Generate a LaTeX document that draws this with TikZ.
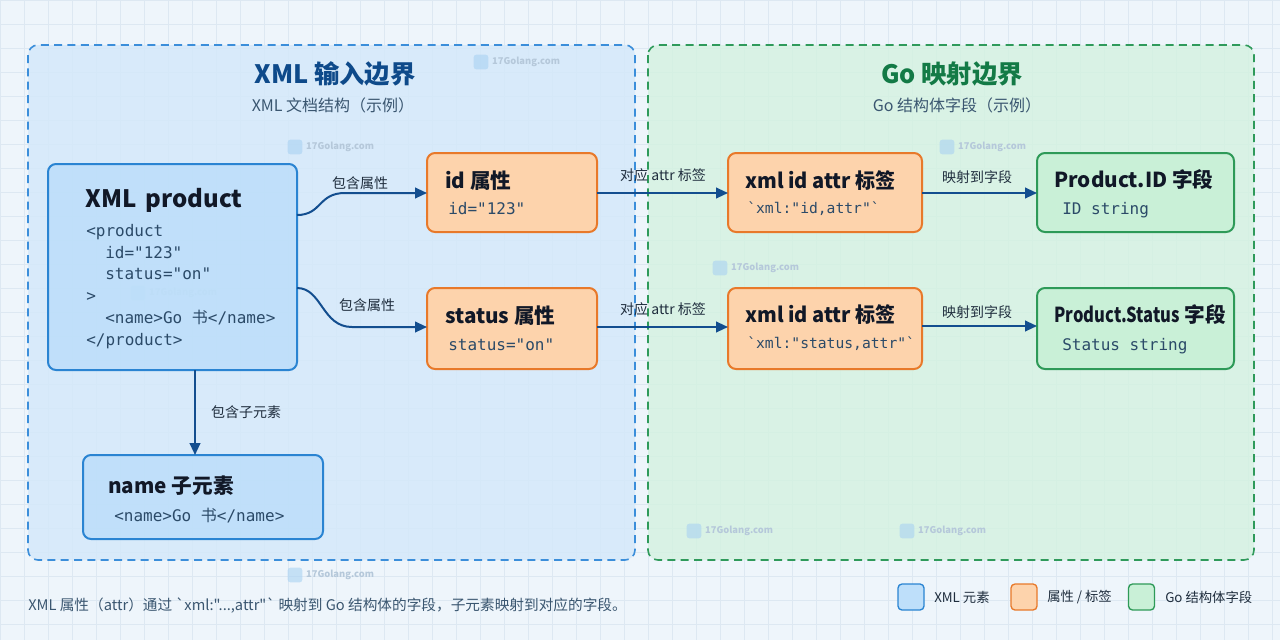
\documentclass[tikz,border=0pt]{standalone}
\usepackage{fontspec}
\setmainfont{Noto Sans CJK SC}
\setmonofont{DejaVu Sans Mono}
\newfontfamily\cjk{Noto Sans CJK SC}
\usetikzlibrary{arrows.meta}
\definecolor{bg}{HTML}{EEF5FB}
\definecolor{gridc}{HTML}{DDE8F2}
\definecolor{lfill}{HTML}{D3E8FA}
\definecolor{lstroke}{HTML}{3B8EDA}
\definecolor{rfill}{HTML}{D4F2E0}
\definecolor{rstroke}{HTML}{2F9A5B}
\definecolor{bfill}{HTML}{BEDFFA}
\definecolor{bstroke}{HTML}{2A84D2}
\definecolor{ofill}{HTML}{FDD3AC}
\definecolor{ostroke}{HTML}{E8792A}
\definecolor{gfill}{HTML}{C9F0D7}
\definecolor{gstroke}{HTML}{2E9A58}
\definecolor{edgec}{HTML}{134E8F}
\definecolor{ltitle}{HTML}{0E4A8A}
\definecolor{rtitle}{HTML}{137A46}
\definecolor{subc}{HTML}{3A5670}
\definecolor{codec}{HTML}{2B4A68}
\definecolor{inkc}{HTML}{111827}
\definecolor{labc}{HTML}{1F2D3D}
\definecolor{wmc}{HTML}{B5C8DA}
\definecolor{wmicon}{HTML}{A9D2F2}
\newcommand\wmark[3]{%
  \node[wmbox] (#1i) at (#2,#3) {};
  \node[wmtext] (#1t) at ([xshift=2.5pt]#1i.east) {17Golang.com};}
\begin{document}
\begin{tikzpicture}[x=0.75pt,y=-0.75pt,
  gridline/.style={draw=gridc, line width=0.4pt},
  bound/.style={dash pattern=on 6pt off 4pt, line width=1.2pt, rounded corners=7.5pt},
  box/.style={draw, rounded corners=6pt, line width=1.5pt, inner sep=0pt, outer sep=0pt},
  bluebox/.style={box, fill=bfill, draw=bstroke},
  orangebox/.style={box, fill=ofill, draw=ostroke},
  greenbox/.style={box, fill=gfill, draw=gstroke},
  ttl/.style={anchor=base west, inner sep=0pt, font=\bfseries\fontsize{15.5}{18}\selectfont, text=inkc},
  code/.style={anchor=base west, inner sep=0pt, font=\ttfamily\fontsize{12}{14}\selectfont, text=codec},
  smallcode/.style={code, font=\ttfamily\fontsize{11}{13}\selectfont},
  elab/.style={anchor=base, inner sep=0pt, font=\fontsize{10.5}{12}\selectfont, text=labc},
  conn/.style={draw=edgec, line width=1.5pt, -{Triangle[length=9pt,width=8pt]}},
  legbox/.style={draw, rounded corners=3pt, line width=1pt, minimum size=19.5pt, inner sep=0pt},
  legtxt/.style={anchor=west, inner sep=0pt, font=\fontsize{10}{12}\selectfont, text=labc},
  wmbox/.style={fill=wmicon, fill opacity=0.6, rounded corners=2pt, minimum size=11pt, inner sep=0pt},
  wmtext/.style={anchor=west, inner sep=0pt, font=\bfseries\fontsize{7}{8}\selectfont, text=wmc}
]
\useasboundingbox (0,0) rectangle (1280,640);
\fill[bg] (0,0) rectangle (1280,640);
\foreach \i in {0,24,...,1280} \draw[gridline] (\i,0) -- (\i,640);
\foreach \j in {0,24,...,640} \draw[gridline] (0,\j) -- (1280,\j);

% boundaries
\draw[bound, draw=lstroke, fill=lfill, fill opacity=0.8] (28,45) rectangle (635,560);
\draw[bound, draw=rstroke, fill=rfill, fill opacity=0.8] (648,45) rectangle (1254,560);

\node[anchor=base, inner sep=0pt, font=\bfseries\fontsize{19}{22}\selectfont, text=ltitle] (ltitle) at (335,83) {XML 输入边界};
\node[anchor=base, inner sep=0pt, font=\fontsize{12}{14}\selectfont, text=subc] (lsub) at (333,111) {XML 文档结构（示例）};
\node[anchor=base, inner sep=0pt, font=\bfseries\fontsize{19}{22}\selectfont, text=rtitle] (rtitle) at (952,83) {Go 映射边界};
\node[anchor=base, inner sep=0pt, font=\fontsize{12}{14}\selectfont, text=subc] (rsub) at (957,111) {Go 结构体字段（示例）};

% watermarks
\wmark{w1}{481}{62}
\wmark{w2}{295}{147}
\wmark{w3}{138}{293}
\wmark{w4}{720}{268}
\wmark{w5}{947}{147}
\wmark{w6}{694}{531}
\wmark{w7}{907}{531}
\wmark{w8}{295}{575}

% boxes
\node[bluebox, fill opacity=0.92, minimum width=186.75pt, minimum height=154.5pt] (xmlp) at (172.5,267) {};
\node[bluebox, fill opacity=0.92, minimum width=180pt, minimum height=63pt] (name) at (203,497) {};
\node[orangebox, minimum width=127.5pt, minimum height=59.25pt] (id) at (512,192.5) {};
\node[orangebox, minimum width=127.5pt, minimum height=60.75pt] (status) at (512,328.5) {};
\node[orangebox, minimum width=145.5pt, minimum height=59.25pt] (xml1) at (825,192.5) {};
\node[orangebox, minimum width=145.5pt, minimum height=60.75pt] (xml2) at (825,328.5) {};
\node[greenbox, minimum width=147.75pt, minimum height=59.25pt] (pid) at (1135.5,192.5) {};
\node[greenbox, minimum width=147.75pt, minimum height=60.75pt] (pst) at (1135.5,328.5) {};

% texts in boxes
\node[ttl, font=\bfseries\fontsize{18}{21}\selectfont] (xmlpt) at (85,207) {XML\, product};
\node[code] (c1) at (86,236) {<product};
\node[code] (c2) at (105,258) {id="123"};
\node[code] (c3) at (105,279) {status="on"};
\node[code] (c4) at (86,301) {>};
\node[code] (c5) at (105,323) {<name>Go {\cjk 书}</name>};
\node[code] (c6) at (86,345) {</product>};

\node[ttl] (namet) at (108,493) {name 子元素};
\node[code] (namec) at (114,521) {<name>Go {\cjk 书}</name>};

\node[ttl] (idt) at (445,188) {id 属性};
\node[code] (idc) at (448,214) {id="123"};
\node[ttl] (stt) at (445,323) {status 属性};
\node[code] (stc) at (448,350) {status="on"};

\node[ttl] (x1t) at (745,188) {\scalebox{0.97}[1]{xml id attr 标签}};
\node[smallcode] (x1c) at (747,213) {`xml:"id,attr"`};
\node[ttl] (x2t) at (745,322) {\scalebox{0.97}[1]{xml id attr 标签}};
\node[smallcode] (x2c) at (747,348) {`xml:"status,attr"`};

\node[ttl] (pidt) at (1054,187) {Product.ID 字段};
\node[code] (pidc) at (1062,214) {ID string};
\node[ttl] (pstt) at (1054,322) {\scalebox{0.8}[1]{Product.Status} 字段};
\node[code] (pstc) at (1062,350) {Status string};

% connectors
\draw[conn] (xmlp.east |- 0,215) .. controls (322,215) and (318,193) .. (345,193) -- (id.west |- 0,193);
\node[elab] (l1) at (360,188) {包含属性};
\draw[conn] (xmlp.east |- 0,288) .. controls (322,288) and (322,327) .. (352,327) -- (status.west |- 0,327);
\node[elab] (l2) at (367,310) {包含属性};
\draw[conn] (id.east |- 0,193) -- (xml1.west |- 0,193);
\node[elab] (l3) at (663,180) {对应 attr 标签};
\draw[conn] (status.east |- 0,327) -- (xml2.west |- 0,327);
\node[elab] (l4) at (663,314) {对应 attr 标签};
\draw[conn] (xml1.east |- 0,193) -- (pid.west |- 0,193);
\node[elab] (l5) at (977,182) {映射到字段};
\draw[conn] (xml2.east |- 0,326) -- (pst.west |- 0,326);
\node[elab] (l6) at (977,317) {映射到字段};
\draw[conn] (xmlp.south -| 195,0) -- (name.north -| 195,0);
\node[elab] (l7) at (246,417) {包含子元素};

% footer
\node[anchor=base west, inner sep=0pt, font=\cjk\fontsize{11}{13}\selectfont, text=subc] (foot) at (28,610) {XML 属性（attr）通过 `xml:"...,attr"` 映射到 Go 结构体的字段，子元素映射到对应的字段。};

% legend
\node[legbox, fill=bfill, draw=bstroke] (lg1) at (911,597) {};
\node[legtxt] (lt1) at (934,597) {XML 元素};
\node[legbox, fill=ofill, draw=ostroke] (lg2) at (1024,597) {};
\node[legtxt] (lt2) at (1047,597) {属性 / 标签};
\node[legbox, fill=gfill, draw=gstroke] (lg3) at (1141.5,597) {};
\node[legtxt] (lt3) at (1165,597) {Go 结构体字段};
\end{tikzpicture}
\end{document}
